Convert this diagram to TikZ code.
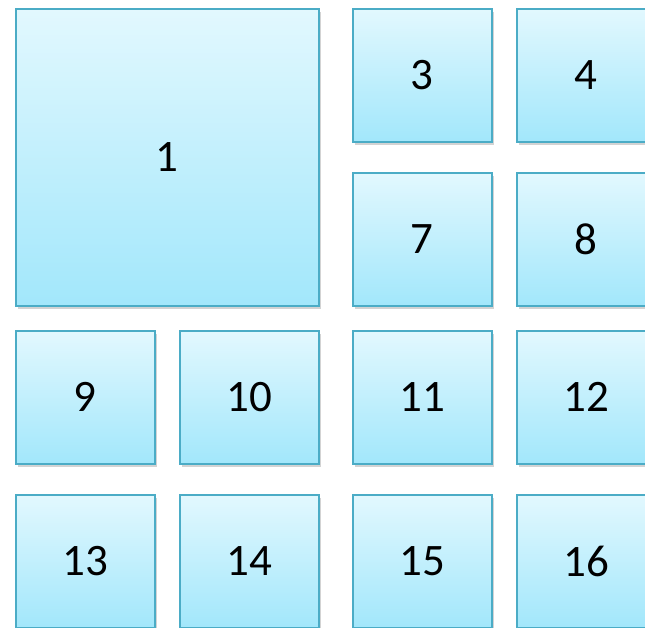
\documentclass[tikz,border=0pt]{standalone}
\usepackage{fontspec}
\setmainfont{Carlito}
\usetikzlibrary{shadows}
\definecolor{tileline}{HTML}{4BACC6}
\definecolor{tiletop}{HTML}{E2F8FE}
\definecolor{tilebottom}{HTML}{A2E7FB}
\tikzset{
    tile/.style={draw=tileline, line width=1.5pt, top color=tiletop, bottom color=tilebottom,
        anchor=north west, minimum width=139pt, minimum height=133pt, inner sep=0pt,
        font=\fontsize{45}{50}\selectfont,
        drop shadow={shadow xshift=2pt, shadow yshift=-3pt, opacity=0.35}},
}
\begin{document}
\begin{tikzpicture}[x=1pt, y=-1pt] % one unit is one pixel of the reference
    \useasboundingbox (0,0) rectangle (645,627);
    \clip (0,0) rectangle (645,627);

    % Big tile
    \node[tile, minimum width=303pt, minimum height=297pt] (b1) at (15,8) {1};

    % Small tiles: name/x/y
    \foreach \n/\x/\y in {3/352/8, 4/516/8, 7/352/172, 8/516/172,
                          9/15/330, 10/179/330, 11/352/330, 12/516/330,
                          13/15/494, 14/179/494, 15/352/494, 16/516/494}
        \node[tile] (b\n) at (\x,\y) {\n};
\end{tikzpicture}
\end{document}
